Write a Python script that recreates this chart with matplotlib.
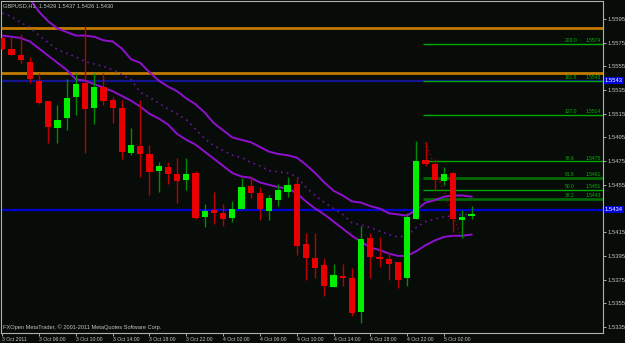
import matplotlib
matplotlib.use("Agg")
import matplotlib.pyplot as plt
import numpy as np

# ── Data (GBPUSD H1) ─────────────────────────────────────────────────────────

OPEN = [1.5579, 1.5570, 1.5565, 1.5559, 1.5543, 1.5526, 1.5503, 1.5511, 1.5529, 1.5541,
        1.5520, 1.5538, 1.5527, 1.5520, 1.5482, 1.5488, 1.5481, 1.5467, 1.5470, 1.5464,
        1.5459, 1.5465, 1.5428, 1.5434, 1.5431, 1.5427, 1.5435, 1.5454, 1.5448, 1.5433,
        1.5442, 1.5449, 1.5456, 1.5405, 1.5393, 1.5387, 1.5369, 1.5378, 1.5376, 1.5348,
        1.5410, 1.5394, 1.5392, 1.5390, 1.5376, 1.5426, 1.5476, 1.5473, 1.5458, 1.5465,
        1.5425, 1.5429]
HIGH = [1.5580, 1.5580, 1.5582, 1.5563, 1.5549, 1.5526, 1.5522, 1.5544, 1.5549, 1.5589,
        1.5549, 1.5549, 1.5529, 1.5527, 1.5503, 1.5527, 1.5489, 1.5474, 1.5474, 1.5478,
        1.5478, 1.5467, 1.5439, 1.5449, 1.5439, 1.5441, 1.5461, 1.5462, 1.5453, 1.5446,
        1.5456, 1.5462, 1.5461, 1.5414, 1.5414, 1.5393, 1.5388, 1.5388, 1.5385, 1.5420,
        1.5414, 1.5411, 1.5398, 1.5390, 1.5431, 1.5492, 1.5491, 1.5477, 1.5470, 1.5466,
        1.5434, 1.5437]
LOW = [1.5569, 1.5565, 1.5558, 1.5541, 1.5523, 1.5490, 1.5490, 1.5501, 1.5514, 1.5482,
       1.5506, 1.5522, 1.5507, 1.5477, 1.5480, 1.5462, 1.5446, 1.5449, 1.5456, 1.5440,
       1.5451, 1.5426, 1.5419, 1.5422, 1.5420, 1.5424, 1.5435, 1.5444, 1.5425, 1.5425,
       1.5437, 1.5445, 1.5396, 1.5375, 1.5376, 1.5361, 1.5369, 1.5370, 1.5344, 1.5338,
       1.5376, 1.5386, 1.5375, 1.5368, 1.5370, 1.5426, 1.5471, 1.5451, 1.5455, 1.5415,
       1.5410, 1.5426]
CLOSE = [1.5570, 1.5565, 1.5560, 1.5544, 1.5524, 1.5504, 1.5510, 1.5528, 1.5540, 1.5519,
         1.5538, 1.5526, 1.5520, 1.5483, 1.5489, 1.5481, 1.5466, 1.5471, 1.5464, 1.5458,
         1.5464, 1.5427, 1.5433, 1.5431, 1.5426, 1.5435, 1.5453, 1.5448, 1.5435, 1.5444,
         1.5451, 1.5455, 1.5403, 1.5393, 1.5385, 1.5370, 1.5379, 1.5376, 1.5347, 1.5409,
         1.5394, 1.5392, 1.5388, 1.5375, 1.5428, 1.5475, 1.5473, 1.5459, 1.5464, 1.5426,
         1.5428, 1.5430]

# envelope indicator: upper / middle (dotted) / lower
ENV_UP = [1.5628, 1.5622, 1.5617, 1.5612, 1.5601, 1.5593, 1.5587, 1.5584, 1.5581, 1.5581,
          1.5580, 1.5577, 1.5576, 1.5570, 1.5561, 1.5558, 1.5550, 1.5543, 1.5538, 1.5534,
          1.5528, 1.5523, 1.5516, 1.5507, 1.5501, 1.5495, 1.5493, 1.5491, 1.5487, 1.5483,
          1.5481, 1.5480, 1.5478, 1.5472, 1.5465, 1.5457, 1.5450, 1.5446, 1.5441, 1.5440,
          1.5437, 1.5435, 1.5431, 1.5430, 1.5429, 1.5434, 1.5440, 1.5442, 1.5445, 1.5446,
          1.5446, 1.5445]
ENV_MID = [1.5600, 1.5597, 1.5592, 1.5588, 1.5581, 1.5575, 1.5569, 1.5566, 1.5563, 1.5559,
           1.5557, 1.5555, 1.5552, 1.5548, 1.5544, 1.5533, 1.5529, 1.5524, 1.5519, 1.5515,
           1.5510, 1.5502, 1.5494, 1.5488, 1.5484, 1.5480, 1.5478, 1.5474, 1.5471, 1.5467,
           1.5466, 1.5465, 1.5462, 1.5453, 1.5446, 1.5440, 1.5435, 1.5430, 1.5423, 1.5421,
           1.5419, 1.5416, 1.5413, 1.5411, 1.5412, 1.5419, 1.5424, 1.5426, 1.5428, 1.5429,
           1.5430, 1.5430]
ENV_LOW = [1.5581, 1.5580, 1.5579, 1.5576, 1.5570, 1.5564, 1.5558, 1.5552, 1.5544, 1.5543,
           1.5540, 1.5537, 1.5534, 1.5530, 1.5526, 1.5521, 1.5515, 1.5511, 1.5506, 1.5498,
           1.5493, 1.5489, 1.5483, 1.5477, 1.5471, 1.5465, 1.5462, 1.5461, 1.5457, 1.5455,
           1.5453, 1.5452, 1.5448, 1.5441, 1.5435, 1.5430, 1.5424, 1.5418, 1.5412, 1.5407,
           1.5402, 1.5400, 1.5397, 1.5395, 1.5395, 1.5399, 1.5404, 1.5408, 1.5411, 1.5412,
           1.5412, 1.5413]

ORANGE_LEVELS = [1.5587, 1.5549]
BLUE_LEVELS = [1.5543, 1.5434]

FIB_NAMES = ["200.0", "161.8", "127.0", "78.6", "61.8", "50.0", "38.2"]
FIB_PRICES = [1.5574, 1.5543, 1.5514, 1.5475, 1.5461, 1.5451, 1.5443]
FIB_START = 46
FIB_TREND_X = [46, 49.8]
FIB_TREND_Y = [1.5491, 1.5412]

TIME_LABELS = ["3 Oct 2011", "3 Oct 06:00", "3 Oct 10:00", "3 Oct 14:00", "3 Oct 18:00",
               "3 Oct 22:00", "4 Oct 02:00", "4 Oct 06:00", "4 Oct 10:00", "4 Oct 14:00",
               "4 Oct 18:00", "4 Oct 22:00", "5 Oct 02:00"]
PRICE_TICKS = [1.5595, 1.5575, 1.5555, 1.5535, 1.5515, 1.5495, 1.5475, 1.5455,
               1.5415, 1.5395, 1.5375, 1.5355, 1.5335]

TITLE = "GBPUSD,H1  1.5429 1.5437 1.5426 1.5430"
COPYRIGHT = "FXOpen MetaTrader, \u00a9 2001-2011 MetaQuotes Software Corp."

# ── Style ─────────────────────────────────────────────────────────────────────

BG = "#080c08"
FG = "#c4c4c4"
plt.rcParams['font.family'] = ['Liberation Sans', 'DejaVu Sans']

fig = plt.figure(figsize=(6.25, 3.43), dpi=100, facecolor=BG)
ax = fig.add_axes([1 / 625, 10 / 343, 602 / 625, 332 / 343])
ax.set_facecolor(BG)

n = len(OPEN)
x = np.arange(n)
o, h, l, c = map(np.array, (OPEN, HIGH, LOW, CLOSE))
up = c >= o

# horizontal levels
for lv in ORANGE_LEVELS:
    ax.axhline(lv, color="#c27a00", lw=2, zorder=1)
ax.axhline(BLUE_LEVELS[0], color="#141490", lw=1.6, zorder=1)
ax.axhline(BLUE_LEVELS[1], color="#0000d2", lw=1.6, zorder=1)

# fibonacci levels
for i, (name, p) in enumerate(zip(FIB_NAMES, FIB_PRICES)):
    dark = name in ("61.8", "38.2")
    ax.hlines(p, FIB_START - 0.25, 70, color="#006a00" if dark else "#00a800",
              lw=2 if dark else 1, zorder=1)
    ax.text(61.1, p + 0.00005, name, color="#00b400", fontsize=3.6, va="bottom", ha="left")
    ax.text(65.1, p + 0.00005, f"{p:.4f}", color="#00b400", fontsize=3.6, va="bottom", ha="right")
ax.plot(FIB_TREND_X, FIB_TREND_Y, color="#9a0000", lw=1, ls=(0, (1, 2)), zorder=2)

# envelopes
ax.plot(x, ENV_UP, color="#9010d0", lw=1.4, zorder=2)
ax.plot(x, ENV_LOW, color="#9010d0", lw=1.4, zorder=2)
ax.plot(x, ENV_MID, color="#6c14a0", lw=1.2, ls=(0, (1, 2.5)), zorder=2)

# candles
ax.vlines(x[up], l[up], h[up], color="#008c00", lw=1, zorder=3)
ax.vlines(x[~up], l[~up], h[~up], color="#b80000", lw=1, zorder=3)
body_lo = np.minimum(o, c)
body_h = np.maximum(np.abs(c - o), 0.00008)
ax.bar(x[up], body_h[up], bottom=body_lo[up], width=0.68, color="#00f000", zorder=4)
ax.bar(x[~up], body_h[~up], bottom=body_lo[~up], width=0.68, color="#e80000", zorder=4)

# axes
ax.set_xlim(-0.14, 65.29)
ax.set_ylim(1.53299, 1.56102)
for side in ("left", "right", "bottom", "top"):
    ax.spines[side].set_color("#b0b0b0")
    ax.spines[side].set_linewidth(0.8)

ax.yaxis.tick_right()
ax.set_yticks(PRICE_TICKS)
ax.set_yticklabels([f"{p:.4f}" for p in PRICE_TICKS])
ax.tick_params(axis="y", colors=FG, labelsize=4.2, length=2, width=0.6, pad=1.5)
ax.set_xticks(np.arange(0, 4 * len(TIME_LABELS), 4))
ax.set_xticklabels(TIME_LABELS)
ax.tick_params(axis="x", colors=FG, labelsize=3.7, length=2, width=0.6, pad=1)
for t in ax.get_xticklabels():
    t.set_ha("left")

# highlighted price labels
for lv in BLUE_LEVELS:
    ax.text(1.003, lv, f"{lv:.4f}", transform=ax.get_yaxis_transform(), color="white",
            fontsize=4.2, va="center", ha="left",
            bbox=dict(boxstyle="square,pad=0.15", fc="#0000d8", ec="none"))

ax.text(0.004, 0.987, TITLE, transform=ax.transAxes, color=FG, fontsize=4.1, va="center")
ax.text(0.003, 0.018, COPYRIGHT, transform=ax.transAxes, color=FG, fontsize=4.1, va="center")

fig.savefig("out.png", dpi=100, facecolor=BG)
